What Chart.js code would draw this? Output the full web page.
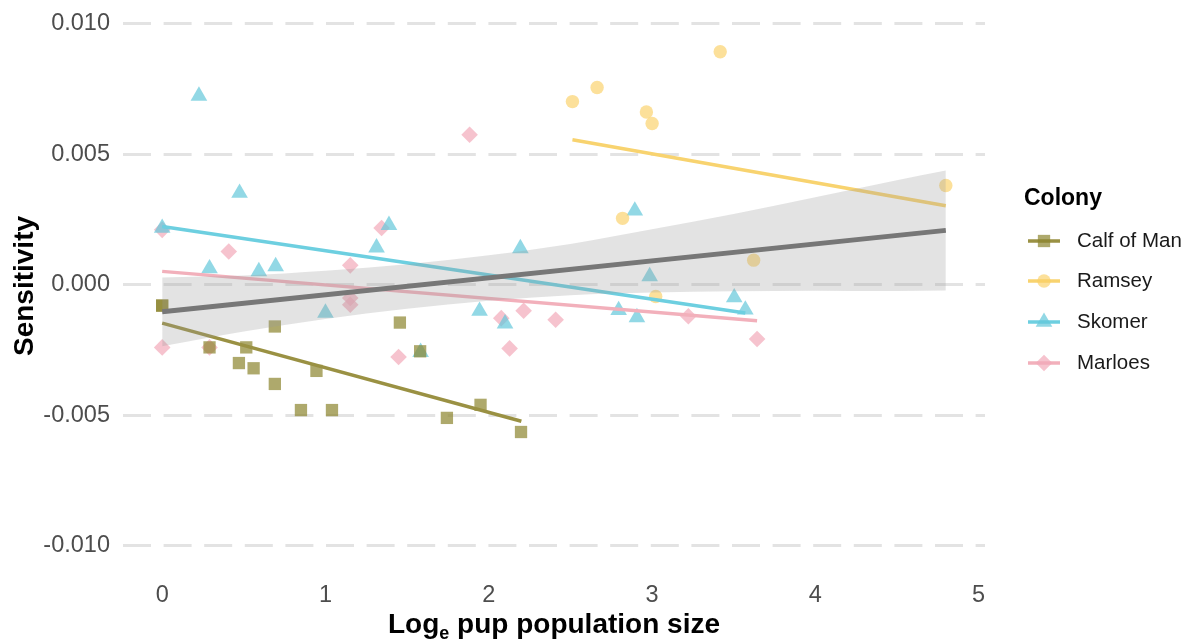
<!DOCTYPE html>
<html>
<head>
<meta charset="utf-8">
<script src="https://cdn.jsdelivr.net/npm/chart.js@4"></script>
<style>
  html, body { margin: 0; padding: 0; background: #fff; }
  #wrap { width: 1191px; height: 641px; position: relative; }
</style>
</head>
<body>
<div id="wrap"><canvas id="sensCanvas"></canvas></div>
<script>
// ---- data ----
const xTicks = [0, 1, 2, 3, 4, 5];
const yTicks = [-0.01, -0.005, 0, 0.005, 0.01];
const colonies = ['Calf of Man', 'Ramsey', 'Skomer', 'Marloes'];

const calfX = [0, 0, 0.29, 0.47, 0.515, 0.56, 0.69, 0.69, 0.85, 0.945, 1.04, 1.456, 1.58, 1.744, 1.95, 2.198];
const calfY = [-0.0008, -0.0008, -0.0024, -0.0030, -0.0024, -0.0032, -0.0016, -0.0038, -0.0048, -0.0033, -0.0048, -0.00145, -0.00255, -0.0051, -0.0046, -0.00564];

const ramseyX = [2.513, 2.664, 2.966, 3.001, 3.418, 2.82, 3.623, 3.023, 4.8];
const ramseyY = [0.00701, 0.00755, 0.00661, 0.00617, 0.00892, 0.00254, 0.00094, -0.00045, 0.0038];

const skomerX = [0, 0.225, 0.29, 0.474, 0.592, 0.695, 1.0, 1.313, 1.389, 1.583, 1.944, 2.10, 2.194, 2.796, 2.895, 2.908, 2.986, 3.504, 3.572];
const skomerY = [0.00217, 0.00723, 0.00062, 0.00351, 0.00051, 0.0007, -0.00108, 0.00142, 0.00228, -0.00258, -0.00101, -0.00149, 0.00139, -0.00098, 0.00283, -0.00125, 0.00032, -0.00049, -0.00096];

const marloesX = [0, 0, 0.29, 0.408, 1.152, 1.152, 1.152, 1.344, 1.448, 1.883, 2.077, 2.128, 2.214, 2.41, 3.223, 3.644];
const marloesY = [0.0021, -0.0024, -0.0024, 0.00127, 0.00074, -0.00051, -0.00077, 0.00217, -0.00277, 0.00574, -0.00128, -0.00244, -0.001, -0.00134, -0.00121, -0.00208];

// fitted lines per colony (end points)
const calfFitX = [0, 2.2],      calfFitY = [-0.00147, -0.00523];
const ramseyFitX = [2.513, 4.8], ramseyFitY = [0.00555, 0.00302];
const skomerFitX = [0, 3.572],  skomerFitY = [0.00223, -0.00108];
const marloesFitX = [0, 3.644], marloesFitY = [0.00051, -0.00138];

// overall fit + confidence band
const overallFitX = [0, 4.8], overallFitY = [-0.00104, 0.00208];
const bandX = [0, 0.5, 1, 1.5, 2, 2.5, 3, 3.5, 4, 4.5, 4.8];
const bandUpper = [0.00028, 0.00035, 0.00053, 0.00078, 0.00113, 0.00156, 0.00212, 0.00271, 0.00335, 0.004, 0.00437];
const bandLower = [-0.00236, -0.00179, -0.00131, -0.00092, -0.00061, -0.0004, -0.0003, -0.00025, -0.00023, -0.00024, -0.00022];

// ---- styles ----
const FONT = '"Liberation Sans", Arial, sans-serif';
const lineClr = { 'Calf of Man': '#9a9143', 'Ramsey': '#f8d36f', 'Skomer': '#6dcfe0', 'Marloes': '#f2b0bb' };
const ptClr = { 'Calf of Man': 'rgba(140,132,45,0.7)', 'Ramsey': 'rgba(250,208,100,0.65)', 'Skomer': 'rgba(100,200,218,0.7)', 'Marloes': 'rgba(242,170,185,0.7)' };
const ptStyle = { 'Calf of Man': 'rect', 'Ramsey': 'circle', 'Skomer': 'triangle', 'Marloes': 'rectRot' };
const ptRadius = { 'Calf of Man': 8.7, 'Ramsey': 6.7, 'Skomer': 9.6, 'Marloes': 8.3 };

const zip = (xs, ys) => xs.map((x, i) => ({ x: x, y: ys[i] }));

function pointSet(name, xs, ys) {
    return {
        label: name, data: zip(xs, ys), showLine: false,
        pointStyle: ptStyle[name], pointRadius: ptRadius[name], pointHoverRadius: ptRadius[name],
        backgroundColor: ptClr[name], borderColor: ptClr[name], borderWidth: 0, order: 3
    };
}
function fitSet(name, xs, ys) {
    return {
        label: name + ' fit', data: zip(xs, ys), showLine: true, pointRadius: 0,
        borderColor: lineClr[name], borderWidth: 3.5, fill: false, order: 2
    };
}

const datasets = [
    pointSet('Calf of Man', calfX, calfY),
    pointSet('Ramsey', ramseyX, ramseyY),
    pointSet('Skomer', skomerX, skomerY),
    pointSet('Marloes', marloesX, marloesY),
    fitSet('Calf of Man', calfFitX, calfFitY),
    fitSet('Ramsey', ramseyFitX, ramseyFitY),
    fitSet('Skomer', skomerFitX, skomerFitY),
    fitSet('Marloes', marloesFitX, marloesFitY),
    {
        label: 'band upper', data: zip(bandX, bandUpper), showLine: true, pointRadius: 0,
        borderColor: 'rgba(0,0,0,0)', borderWidth: 0, cubicInterpolationMode: 'monotone',
        fill: '+1', backgroundColor: 'rgba(153,153,153,0.28)', order: 1
    },
    {
        label: 'band lower', data: zip(bandX, bandLower), showLine: true, pointRadius: 0,
        borderColor: 'rgba(0,0,0,0)', borderWidth: 0, cubicInterpolationMode: 'monotone',
        fill: false, order: 1
    },
    {
        label: 'overall fit', data: zip(overallFitX, overallFitY), showLine: true, pointRadius: 0,
        borderColor: '#777777', borderWidth: 5, fill: false, order: 0
    }
];

// marker for the legend keys
function drawMarker(ctx, style, x, y, r, color) {
    ctx.fillStyle = color;
    ctx.beginPath();
    if (style === 'rect') {
        const s = r / Math.SQRT2;
        ctx.rect(x - s, y - s, 2 * s, 2 * s);
    } else if (style === 'circle') {
        ctx.arc(x, y, r, 0, Math.PI * 2);
    } else if (style === 'triangle') {
        ctx.moveTo(x, y - r);
        ctx.lineTo(x + r * Math.sin(Math.PI / 3), y + r / 2);
        ctx.lineTo(x - r * Math.sin(Math.PI / 3), y + r / 2);
        ctx.closePath();
    } else {
        ctx.moveTo(x, y - r); ctx.lineTo(x + r, y); ctx.lineTo(x, y + r); ctx.lineTo(x - r, y);
        ctx.closePath();
    }
    ctx.fill();
}

// axis titles + legend, drawn like ggplot does
const decorations = {
    id: 'decorations',
    afterDraw(chart) {
        const ctx = chart.ctx;
        const area = chart.chartArea;
        ctx.save();

        // y title
        ctx.fillStyle = '#000';
        ctx.font = 'bold 28px ' + FONT;
        ctx.textAlign = 'center';
        ctx.textBaseline = 'middle';
        ctx.translate(25, (area.top + area.bottom) / 2);
        ctx.rotate(-Math.PI / 2);
        ctx.fillText('Sensitivity', 0, 0);
        ctx.setTransform(1, 0, 0, 1, 0, 0);

        // x title with subscript e
        const big = 'bold 28px ' + FONT, small = 'bold 18px ' + FONT;
        ctx.textAlign = 'left';
        ctx.textBaseline = 'alphabetic';
        ctx.font = big;
        const w1 = ctx.measureText('Log').width;
        const w3 = ctx.measureText(' pup population size').width;
        ctx.font = small;
        const w2 = ctx.measureText('e').width;
        let x = (area.left + area.right) / 2 - (w1 + w2 + w3) / 2;
        const base = 633;
        ctx.font = big; ctx.fillText('Log', x, base); x += w1;
        ctx.font = small; ctx.fillText('e', x, base + 6); x += w2;
        ctx.font = big; ctx.fillText(' pup population size', x, base);

        // legend
        ctx.font = 'bold 23px ' + FONT;
        ctx.textBaseline = 'middle';
        ctx.fillText('Colony', 1024, 199);
        const rows = [241, 281, 322, 363];
        colonies.forEach((name, i) => {
            const y = rows[i];
            ctx.strokeStyle = lineClr[name];
            ctx.lineWidth = 3.5;
            ctx.beginPath(); ctx.moveTo(1028, y); ctx.lineTo(1060, y); ctx.stroke();
            drawMarker(ctx, ptStyle[name], 1044, y, ptRadius[name], ptClr[name]);
            ctx.fillStyle = '#1a1a1a';
            ctx.font = '20.5px ' + FONT;
            ctx.fillText(name, 1077, y);
        });
        ctx.restore();
    }
};

const ctxSens = document.getElementById('sensCanvas').getContext('2d');
new Chart(ctxSens, {
    type: 'scatter',
    data: { datasets: datasets },
    options: {
        responsive: true, maintainAspectRatio: false,
        animation: false, events: [],
        layout: { autoPadding: false, padding: { left: 0, right: 206, top: 0, bottom: 0 } },
        plugins: { legend: { display: false }, tooltip: { enabled: false } },
        scales: {
            x: {
                type: 'linear', min: -0.24, max: 5.04,
                afterBuildTicks: s => { s.ticks = xTicks.map(v => ({ value: v })); },
                afterFit: s => { s.height = 69; s.paddingLeft = 0; s.paddingRight = 0; },
                grid: { display: false, drawTicks: false },
                border: { display: false },
                ticks: { color: '#4d4d4d', font: { size: 23.5, family: FONT }, padding: 9, callback: v => String(v) }
            },
            y: {
                type: 'linear', min: -0.011, max: 0.0109,
                afterBuildTicks: s => { s.ticks = yTicks.map(v => ({ value: v })); },
                afterFit: s => { s.width = 123; s.paddingTop = 0; s.paddingBottom = 0; },
                grid: { color: '#e3e3e3', lineWidth: 3, drawTicks: false, borderDash: [28, 12.6] },
                border: { display: false, dash: [28, 12.6] },
                ticks: { color: '#4d4d4d', font: { size: 23.5, family: FONT }, padding: 13, callback: v => v.toFixed(3) }
            }
        }
    },
    plugins: [decorations]
});
</script>
</body>
</html>
